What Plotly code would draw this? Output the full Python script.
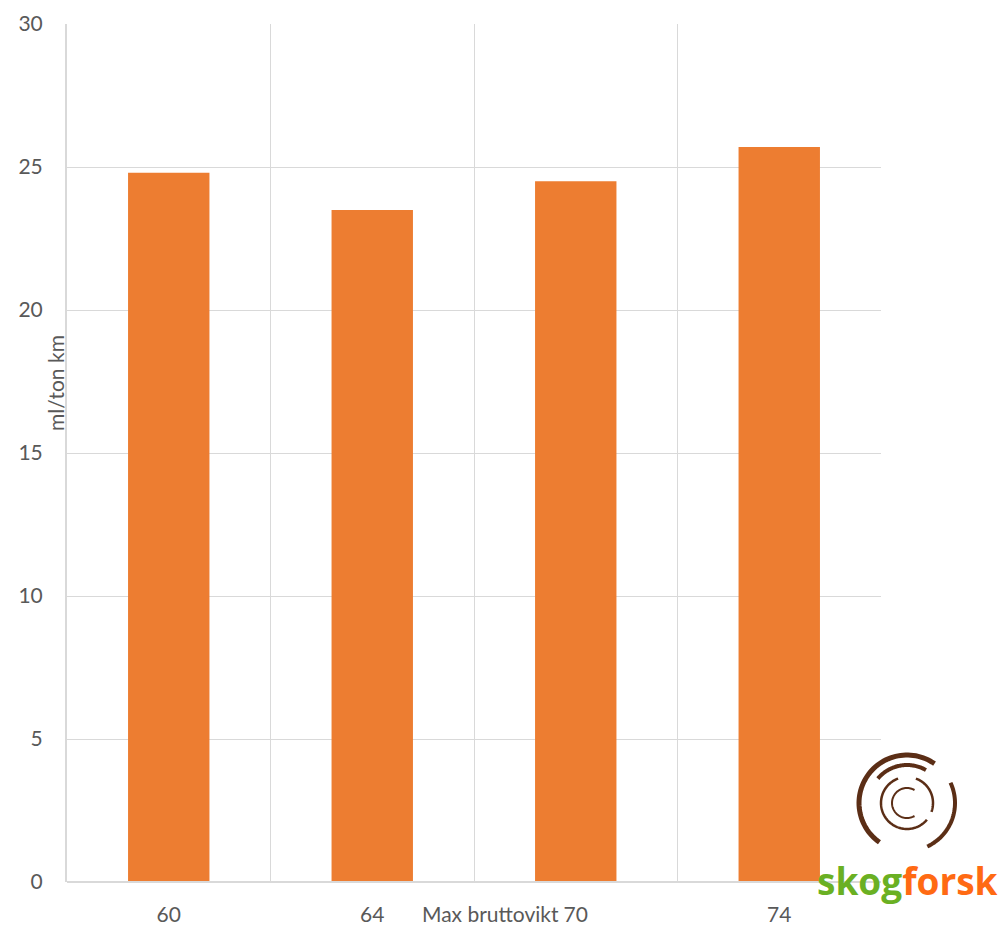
import numpy as np
import plotly.graph_objects as go

categories = ["60", "64", "70", "74"]
values = [24.8, 23.5, 24.5, 25.7]
y_ticks = [0, 5, 10, 15, 20, 25, 30]

W, H = 1002, 927
ML, MR, MT, MB = 67, 121, 24, 45
PW, PH = W - ML - MR, H - MT - MB

def px(x):
    return (x - ML) / PW

def py(y):
    return 1 - (y - MT) / PH

fig = go.Figure()
fig.add_trace(go.Bar(
    x=list(range(len(categories))), y=values,
    marker=dict(color="#ED7D31", line=dict(width=0)),
    width=0.4, showlegend=False,
))

font = "Lato, 'Open Sans', sans-serif"
grid = "#d9d9d9"

fig.update_layout(
    width=W, height=H,
    margin=dict(l=ML, r=MR, t=MT, b=MB, pad=0, autoexpand=False),
    plot_bgcolor="white", paper_bgcolor="white",
    font=dict(family=font, size=21, color="#595959"),
    xaxis=dict(
        range=[-0.5, 3.5], tickvals=list(range(len(categories))), ticktext=categories,
        showgrid=False, zeroline=False, showline=False, ticks="",
        ticklabelstandoff=18, automargin=False,
        minor=dict(tick0=-0.5, dtick=1, showgrid=True, gridcolor=grid, gridwidth=1),
    ),
    yaxis=dict(
        range=[0, 30], tickvals=y_ticks, showgrid=True, gridcolor=grid, gridwidth=1,
        zeroline=False, showline=True, linecolor=grid, linewidth=2, ticks="",
        ticklabelstandoff=18, automargin=False,
    ),
    bargap=0.6,
)

# bottom axis line
fig.add_shape(type="line", xref="paper", yref="paper", x0=0, x1=1, y0=0, y1=0,
              line=dict(color=grid, width=2))

fig.add_annotation(text="ml/ton km", xref="paper", yref="paper", x=px(55), y=py(383),
                   textangle=-90, showarrow=False, font=dict(size=21, color="#595959"),
                   xanchor="center", yanchor="middle")
fig.add_annotation(text="Max bruttovikt", xref="paper", yref="paper", x=px(490), y=py(913),
                   showarrow=False, font=dict(size=21, color="#595959"),
                   xanchor="center", yanchor="middle")

# logo: arcs
brown = "#5b2e16"
cx, cy = 907, 803

def arc(r, a0, a1, width):
    t = np.radians(np.linspace(a0, a1, 60))
    xs = cx + r * np.cos(t)
    ys = cy - r * np.sin(t)
    path = "M " + " L ".join(f"{px(x):.5f},{py(y):.5f}" for x, y in zip(xs, ys))
    fig.add_shape(type="path", path=path, xref="paper", yref="paper",
                  line=dict(color=brown, width=width), layer="above")

arc(48, 55, 235, 5)
arc(38, 140, 60, 4)
arc(48, 25, -65, 4)
arc(26, 110, 250, 2.5)
arc(26, 70, -20, 2.5)
arc(26, -40, -110, 2.5)
arc(15, 60, 300, 2)

fig.add_annotation(
    text="<b><span style='color:#6ab023'>skog</span><span style='color:#ff6a13'>forsk</span></b>",
    xref="paper", yref="paper", x=px(907), y=py(880), showarrow=False,
    font=dict(family="'Open Sans', sans-serif", size=37), xanchor="center", yanchor="middle",
)

fig.write_html("out.html")
